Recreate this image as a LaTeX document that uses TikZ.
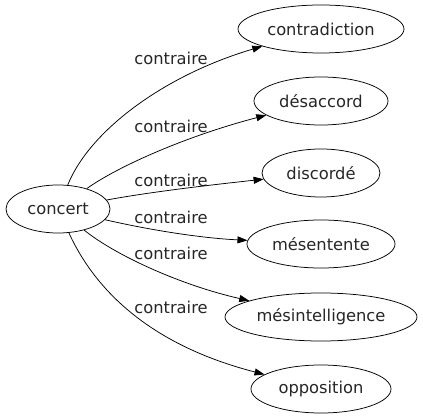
\documentclass[tikz,border=0pt]{standalone}
\usepackage{fontspec}
\setmainfont{DejaVu Sans}
\usepackage{tikz}
\usetikzlibrary{shapes,arrows.meta}

\begin{document}
\begin{tikzpicture}[x=1pt,y=-1pt]
\tikzstyle{word}=[ellipse, draw=black, line width=0.75pt, inner sep=0pt, minimum height=48pt, text=black!85, font=\fontsize{16.3}{19}\selectfont]
\tikzstyle{rel}=[inner sep=0pt, text=black!85, font=\fontsize{16.3}{19}\selectfont]
\tikzstyle{connect}=[-{Triangle[length=10pt,width=7pt]}, line width=0.75pt]
\useasboundingbox (0,0) rectangle (423,419);
	\node[word, minimum width=104pt] (concert) at (58,209) {concert};
	\node[word, minimum width=166pt] (contradiction) at (321,29) {contradiction};
	\node[word, minimum width=134pt] (desaccord) at (321,101) {désaccord};
	\node[word, minimum width=118pt] (discorde) at (321,173) {discordé};
	\node[word, minimum width=148pt] (mesentente) at (321,244) {mésentente};
	\node[word, minimum width=192pt] (mesintelligence) at (321,317) {mésintelligence};
	\node[word, minimum width=140pt] (opposition) at (321,389) {opposition};

	\node[rel] (r_1) at (171,58) {contraire};
	\node[rel] (r_2) at (171,126) {contraire};
	\node[rel] (r_3) at (171,180) {contraire};
	\node[rel] (r_4) at (171,217) {contraire};
	\node[rel] (r_5) at (171,253) {contraire};
	\node[rel] (r_6) at (171,307) {contraire};

	\draw[connect] (concert) .. controls (90,130) and (165,75) .. (contradiction);
	\draw[connect] (concert) .. controls (120,165) and (190,135) .. (desaccord);
	\draw[connect] (concert) .. controls (150,192) and (210,185) .. (discorde);
	\draw[connect] (concert) .. controls (150,230) and (200,238) .. (mesentente);
	\draw[connect] (concert) .. controls (115,255) and (180,285) .. (mesintelligence);
	\draw[connect] (concert) .. controls (95,290) and (150,345) .. (opposition);
\end{tikzpicture}
\end{document}
